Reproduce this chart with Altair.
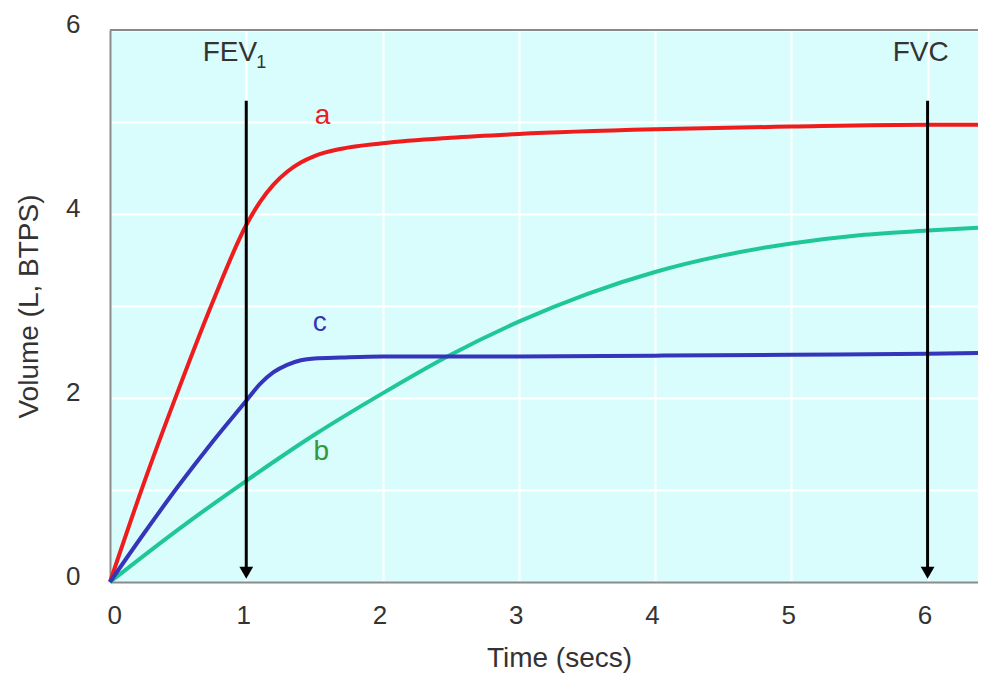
import altair as alt
import pandas as pd

# ---- data ----
t_a = [0, 0.25, 0.5, 0.75, 1.0, 1.1, 1.2, 1.3, 1.4, 1.5, 1.7, 2.0, 2.5, 3.0, 4.0, 5.0, 6.0, 6.37]
v_a = [0, 1.08, 2.08, 3.03, 3.88, 4.13, 4.32, 4.46, 4.56, 4.63, 4.71, 4.77, 4.83, 4.87, 4.92, 4.95, 4.97, 4.97]

t_b = [0, 0.5, 1.0, 1.5, 2.0, 2.5, 3.0, 3.5, 4.0, 4.5, 5.0, 5.5, 6.0, 6.37]
v_b = [0, 0.57, 1.1, 1.6, 2.05, 2.47, 2.83, 3.13, 3.37, 3.55, 3.68, 3.77, 3.82, 3.85]

t_c = [0, 0.25, 0.5, 0.75, 1.0, 1.1, 1.2, 1.3, 1.4, 1.5, 1.7, 2.0, 3.0, 4.0, 5.0, 6.0, 6.37]
v_c = [0, 0.53, 1.04, 1.52, 1.97, 2.15, 2.28, 2.36, 2.41, 2.43, 2.44, 2.45, 2.45, 2.46, 2.47, 2.48, 2.49]

series_names = ["a", "b", "c"]
series_colors = ["#ee1c1c", "#1fc796", "#3535bb"]
label_colors = ["#ee1c1c", "#2e9a3a", "#3535bb"]
label_x = [1.56, 1.55, 1.54]
label_y = [5.07, 1.41, 2.82]

arrow_x = [1, 6]
arrow_top = [5.23, 5.23]
arrow_bottom = [0.1, 0.1]
arrow_names = ["FEV", "FVC"]
arrow_label_x = [0.88, 5.95]
arrow_label_y = [5.75, 5.75]
sub_text = ["1"]
sub_x = [1.11]
sub_y = [5.64]

x_ticks = [0, 1, 2, 3, 4, 5, 6]
y_ticks = [0, 1, 2, 3, 4, 5, 6]
x_max = 6.37
y_max = 6

FONT = "Liberation Sans"

rows = []
for name, ts, vs in zip(series_names, [t_a, t_b, t_c], [v_a, v_b, v_c]):
    for t, v in zip(ts, vs):
        rows.append({"series": name, "t": t, "v": v})
df = pd.DataFrame(rows)

lab_df = pd.DataFrame({"series": series_names, "x": label_x, "y": label_y, "c": label_colors})
arr_df = pd.DataFrame({"x": arrow_x, "top": arrow_top, "bottom": arrow_bottom})
arr_lab = pd.DataFrame({"text": arrow_names, "x": arrow_label_x, "y": arrow_label_y})
sub_df = pd.DataFrame({"text": sub_text, "x": sub_x, "y": sub_y})
frame_df = pd.DataFrame({"x": [0], "x2": [x_max], "y": [y_max]})

xs = alt.Scale(domain=[0, x_max], nice=False, zero=False)
ys = alt.Scale(domain=[0, y_max], nice=False)

x_axis = alt.Axis(values=x_ticks, format="d", title="Time (secs)", grid=True, ticks=False,
                  labelPadding=20, labelOffset=-3, titleX=449, titleY=76, titleBaseline="middle")
y_axis = alt.Axis(values=y_ticks, format="d", title="Volume (L, BTPS)", grid=True, ticks=False,
                  labelPadding=30, labelOffset=-6,
                  labelExpr="datum.value % 2 === 0 ? datum.label : ''",
                  titleX=-81, titleY=276, titleBaseline="middle", titleAlign="center")

lines = alt.Chart(df).mark_line(strokeWidth=4, interpolate="monotone").encode(
    x=alt.X("t:Q", scale=xs, axis=x_axis),
    y=alt.Y("v:Q", scale=ys, axis=y_axis),
    color=alt.Color("series:N", scale=alt.Scale(domain=series_names, range=series_colors), legend=None),
)

frame = alt.Chart(frame_df).mark_rule(color="#8a8a8a", strokeWidth=2).encode(
    x="x:Q", x2="x2:Q", y="y:Q"
)

rules = alt.Chart(arr_df).mark_rule(color="black", strokeWidth=3).encode(
    x="x:Q", y="top:Q", y2="bottom:Q"
)
heads = alt.Chart(arr_df).mark_point(shape="triangle-down", filled=True, size=190,
                                     color="black", opacity=1).encode(
    x="x:Q", y="bottom:Q"
)

series_text = alt.Chart(lab_df).mark_text(fontSize=28, font=FONT).encode(
    x="x:Q", y="y:Q", text="series:N", color=alt.Color("c:N", scale=None)
)
arrow_text = alt.Chart(arr_lab).mark_text(fontSize=28, font=FONT, color="#333333").encode(
    x="x:Q", y="y:Q", text="text:N"
)
sub_mark = alt.Chart(sub_df).mark_text(fontSize=18, font=FONT, color="#333333").encode(
    x="x:Q", y="y:Q", text="text:N"
)

chart = alt.layer(frame, lines, rules, heads, series_text, arrow_text, sub_mark).properties(
    width=868, height=552,
    autosize=alt.AutoSizeParams(type="none"),
    padding={"left": 102, "top": 22, "right": 0, "bottom": 93},
).configure_view(
    fill="#d9fcfd", stroke=None
).configure_axis(
    gridColor="white", gridWidth=2, domainColor="#8a8a8a", domainWidth=2,
    labelFont=FONT, titleFont=FONT, labelFontSize=26, titleFontSize=28,
    labelColor="#333333", titleColor="#333333", titleFontWeight="normal",
)

chart.save("out.html", embed_options={"renderer": "svg", "actions": False})
